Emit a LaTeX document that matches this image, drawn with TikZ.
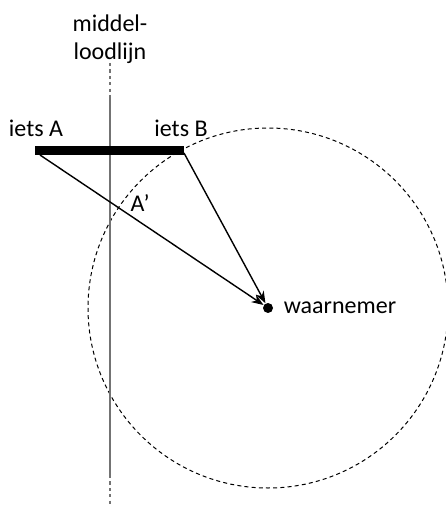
\documentclass[tikz,border=0pt]{standalone}
\usepackage{fontspec}
\setmainfont{Carlito}
\usetikzlibrary{arrows.meta,positioning}

\begin{document}
\begin{tikzpicture}[x=0.5pt, y=-0.5pt,
        every node/.style={font=\fontsize{12}{14}\selectfont, inner sep=0pt},
        tekst/.style={align=center},
        balk/.style={line width=4.5pt},
        pijl/.style={line width=0.7pt, -{Stealth[length=6pt,width=4.5pt]}},
        cirkel/.style={line width=0.5pt, dash pattern=on 2pt off 1.6pt},
        loodlijn/.style={draw=black!55, line width=0.8pt},
        stippel/.style={loodlijn, dash pattern=on 1.6pt off 1.6pt},
        punt/.style={circle, fill=black, minimum size=5pt}
    ]
        \useasboundingbox (0,0) rectangle (445,506);

        % middelloodlijn
        \coordinate (m0) at (110, 63);
        \coordinate (m1) at (110, 98);
        \coordinate (m2) at (110,475);
        \coordinate (m3) at (110,506);
        \node[tekst, anchor=north] (ml) at (110,14) {middel-\\loodlijn};

        % voorwerp
        \coordinate (A)  at ( 35,150.5);
        \coordinate (B)  at (184,150.5);
        \coordinate (a0) at ( 40,155);
        \coordinate (b0) at (184,153);
        \node[anchor=base] (la) at ( 36,137) {iets A};
        \node[anchor=base] (lb) at (181,137) {iets B};

        % waarnemer
        \node[punt] (wn) at (268,308) {};
        \node[right=5pt of wn] (lw) {waarnemer};
        \node (ab) at (140,203) {A’};

        \draw[cirkel] (wn) circle (180);
        \draw[stippel] (m0) -- (m1);
        \draw[loodlijn] (m1) -- (m2);
        \draw[stippel] (m2) -- (m3);
        \draw[balk] (A) -- (B);
        \foreach \p in {a0,b0} \draw[pijl] (\p) -- (wn);
    \end{tikzpicture}
\end{document}
